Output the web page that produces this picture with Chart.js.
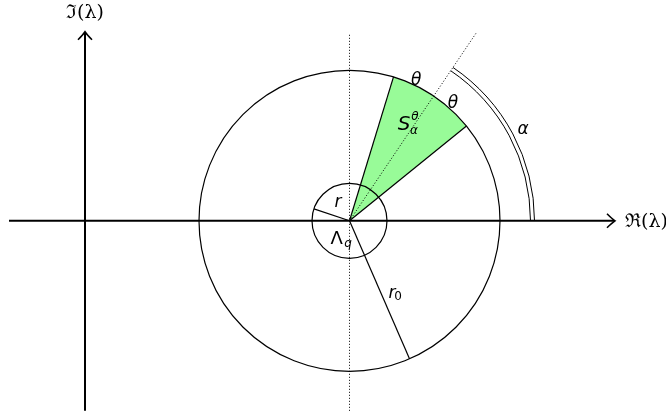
<!DOCTYPE html>
<html>
<head>
<meta charset="utf-8">
<script src="https://cdn.jsdelivr.net/npm/chart.js@4"></script>
<style>
html, body { margin: 0; padding: 0; background: #fff; }
#wrap { width: 666px; height: 414px; }
</style>
</head>
<body>
<div id="wrap"><canvas id="diagram"></canvas></div>
<script>
// geometry of the figure, in plane units (1 unit = r0 / 1.505)
const realAxisX = [-0.76, 5.29];
const imagAxisY = [-1.90, 1.88];
const centre = [2.645, 0];
const smallRadius = 0.375;
const bigRadius = 1.505;
const alphaDeg = 56;
const thetaDeg = 17;
const rDeg = 161.5;
const r0Deg = -66.5;
const alphaArcRadii = [1.81, 1.85];
const rayLength = 2.28;
const dottedY = [-1.90, 1.88];

const rad = d => d * Math.PI / 180;
const polar = (len, deg) => ({ x: centre[0] + len * Math.cos(rad(deg)), y: centre[1] + len * Math.sin(rad(deg)) });
const c = { x: centre[0], y: centre[1] };

function seg(points, width, dash) {
    return {
        data: points,
        showLine: true,
        borderColor: '#000',
        borderWidth: width,
        borderDash: dash || [],
        pointRadius: 0,
        tension: 0,
        clip: false
    };
}

// circles, sector, arrows and labels drawn through the same scales
const figurePlugin = {
    id: 'figure',
    beforeDatasetsDraw(chart) {
        const { ctx, scales: { x, y } } = chart;
        const px = x.getPixelForValue(c.x), py = y.getPixelForValue(c.y);
        const R = x.getPixelForValue(c.x + bigRadius) - px;
        ctx.save();
        ctx.fillStyle = '#98fb98';
        ctx.beginPath();
        ctx.moveTo(px, py);
        ctx.arc(px, py, R, -rad(alphaDeg + thetaDeg), -rad(alphaDeg - thetaDeg), false);
        ctx.closePath();
        ctx.fill();
        ctx.restore();
    },
    afterDatasetsDraw(chart) {
        const { ctx, scales: { x, y } } = chart;
        const X = v => x.getPixelForValue(v), Y = v => y.getPixelForValue(v);
        const L = v => X(c.x + v) - X(c.x);
        const px = X(c.x), py = Y(c.y);
        ctx.save();
        ctx.strokeStyle = '#000';
        ctx.lineWidth = 1.2;
        [bigRadius, smallRadius].forEach(r => {
            ctx.beginPath();
            ctx.arc(px, py, L(r), 0, Math.PI * 2);
            ctx.stroke();
        });
        ctx.lineWidth = 1;
        alphaArcRadii.forEach(r => {
            ctx.beginPath();
            ctx.arc(px, py, L(r), -rad(alphaDeg), 0, false);
            ctx.stroke();
        });
        // arrow heads
        ctx.lineWidth = 1.6;
        const tipR = { x: X(realAxisX[1]), y: Y(0) };
        ctx.beginPath();
        ctx.moveTo(tipR.x - 7, tipR.y - 7);
        ctx.quadraticCurveTo(tipR.x - 2, tipR.y - 2, tipR.x + 1, tipR.y);
        ctx.quadraticCurveTo(tipR.x - 2, tipR.y + 2, tipR.x - 7, tipR.y + 7);
        ctx.stroke();
        const tipI = { x: X(0), y: Y(imagAxisY[1]) };
        ctx.beginPath();
        ctx.moveTo(tipI.x - 7, tipI.y + 7);
        ctx.quadraticCurveTo(tipI.x - 2, tipI.y + 2, tipI.x, tipI.y - 1);
        ctx.quadraticCurveTo(tipI.x + 2, tipI.y + 2, tipI.x + 7, tipI.y + 7);
        ctx.stroke();

        // labels
        ctx.fillStyle = '#000';
        ctx.textBaseline = 'middle';
        const put = (t, xv, yv, font, align) => {
            ctx.font = font;
            ctx.textAlign = align || 'center';
            ctx.fillText(t, X(xv), Y(yv));
        };
        const serif = '19px "DejaVu Serif"';
        const ital = 'oblique 17px "DejaVu Sans"';
        const sub = '12px "DejaVu Sans"';
        const subI = 'oblique 12px "DejaVu Sans"';
        put('\u2111(\u03bb)', 0, 2.08, serif);
        put('\u211c(\u03bb)', 5.40, -0.01, serif, 'left');
        put('r', 2.53, 0.18, ital);
        put('\u039b', 2.517, -0.185, '18px "DejaVu Sans"');
        put('q', 2.63, -0.23, subI);
        put('r', 3.07, -0.73, ital);
        put('0', 3.13, -0.76, sub);
        const th1 = polar(1.55, 64.5), th2 = polar(1.56, 48.5);
        put('\u03b8', th1.x, th1.y, ital);
        put('\u03b8', th2.x, th2.y, ital);
        put('S', 3.19, 0.96, 'oblique 20px "DejaVu Sans"');
        put('\u03b8', 3.30, 1.04, subI);
        put('\u03b1', 3.29, 0.90, subI);
        put('\u03b1', 4.38, 0.91, ital);
        ctx.restore();
    }
};

new Chart(document.getElementById('diagram'), {
    type: 'scatter',
    data: {
        datasets: [
            seg([{ x: realAxisX[0], y: 0 }, { x: realAxisX[1], y: 0 }], 2),
            seg([{ x: 0, y: imagAxisY[0] }, { x: 0, y: imagAxisY[1] }], 2),
            seg([{ x: c.x, y: dottedY[0] }, { x: c.x, y: dottedY[1] }], 1, [1, 2]),
            seg([c, polar(rayLength, alphaDeg)], 1, [1, 2]),
            seg([c, polar(bigRadius, alphaDeg + thetaDeg)], 1.2),
            seg([c, polar(bigRadius, alphaDeg - thetaDeg)], 1.2),
            seg([c, polar(smallRadius, rDeg)], 1.2),
            seg([c, polar(bigRadius, r0Deg)], 1.2)
        ]
    },
    options: {
        responsive: true,
        maintainAspectRatio: false,
        animation: false,
        layout: { padding: 0 },
        plugins: { legend: { display: false }, tooltip: { enabled: false } },
        scales: {
            x: { type: 'linear', min: -0.85, max: 5.81, display: false },
            y: { type: 'linear', min: -1.932, max: 2.208, display: false }
        }
    },
    plugins: [figurePlugin]
});
</script>
</body>
</html>
